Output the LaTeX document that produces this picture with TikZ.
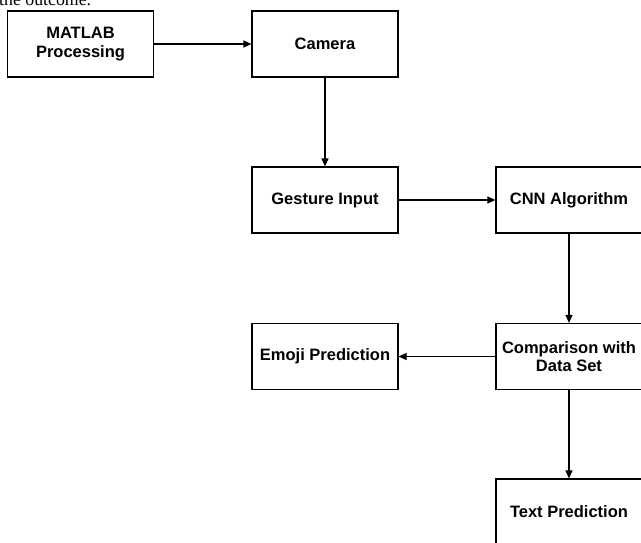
\documentclass[tikz,border=0pt]{standalone}
\usepackage{fontspec}
\setmainfont{Liberation Sans}
\newfontfamily\pageserif{Liberation Serif}
\usetikzlibrary{arrows.meta}

\begin{document}
\begin{tikzpicture}[x=1pt,y=-1pt,
    block/.style={draw,line width=1.2,minimum width=146,minimum height=66,align=center,
      font=\fontsize{16.5}{18.5}\selectfont\bfseries},
    flow/.style={arrows=-{Triangle[length=8,width=7]},line width=1.2}]
    \useasboundingbox (0,0) rectangle (641,543);

    \node [anchor=base west,inner sep=0,font=\pageserif\fontsize{17.8}{20}\selectfont] (outcome) at (-1,6) {the outcome.};

    \node [block] (matlab)  at (80.5,44)   {MATLAB\\Processing};
    \node [block] (camera)  at (325,44)    {Camera};
    \node [block] (gesture) at (325,200)   {Gesture Input};
    \node [block] (cnn)     at (569,200)   {CNN Algorithm};
    \node [block] (compare) at (569,356.5) {Comparison with\\Data Set};
    \node [block] (emoji)   at (325,356.5) {Emoji Prediction};
    \node [block] (textout) at (569,512)   {Text Prediction};

    \draw [flow] (matlab) -- (camera);
    \draw [flow] (camera) -- (gesture);
    \draw [flow] (gesture) -- (cnn);
    \draw [flow] (cnn) -- (compare);
    \draw [flow] (compare) -- (emoji);
    \draw [flow] (compare) -- (textout);
  \end{tikzpicture}
\end{document}
